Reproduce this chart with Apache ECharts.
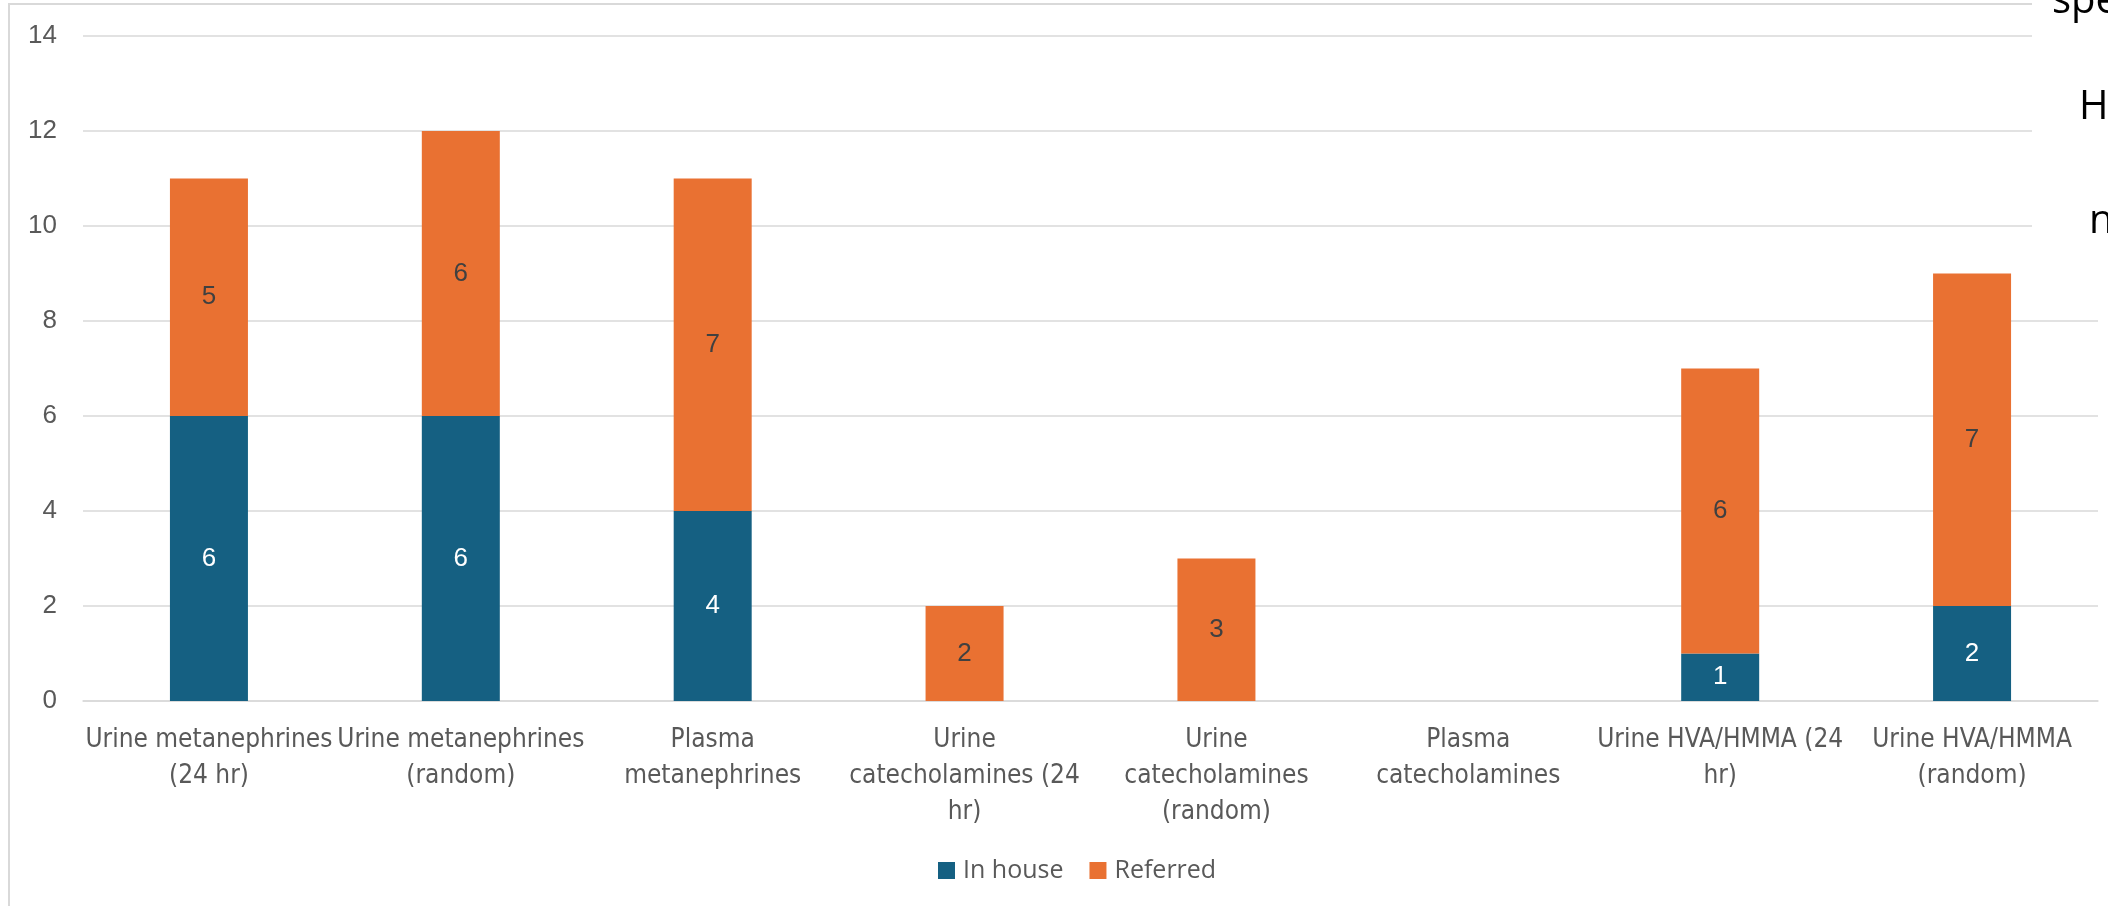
<!DOCTYPE html>
<html lang="en">
<head>
    <meta charset="UTF-8">
    <title>Tests: in house vs referred</title>
    <script src="https://cdn.jsdelivr.net/npm/echarts@6/dist/echarts.min.js"></script>
    <style>
        * {
            margin: 0px;
            padding: 0px;
        }

        #chart {
            width: 2108px;
            height: 906px;
            background: #fff;
        }
    </style>
</head>
<body>
    <div id="chart"></div>

    <script type="text/javascript">
        // data
        var categories = [
            'Urine metanephrines (24 hr)',
            'Urine metanephrines (random)',
            'Plasma metanephrines',
            'Urine catecholamines (24 hr)',
            'Urine catecholamines (random)',
            'Plasma catecholamines',
            'Urine HVA/HMMA (24 hr)',
            'Urine HVA/HMMA (random)'
        ];
        // wrapped the way the picture shows them
        var tickLabels = [
            'Urine metanephrines\n(24 hr)',
            'Urine metanephrines\n(random)',
            'Plasma\nmetanephrines',
            'Urine\ncatecholamines (24\nhr)',
            'Urine\ncatecholamines\n(random)',
            'Plasma\ncatecholamines',
            'Urine HVA/HMMA (24\nhr)',
            'Urine HVA/HMMA\n(random)'
        ];
        var inHouse = [6, 6, 4, 0, 0, 0, 1, 2];
        var referred = [5, 6, 7, 2, 3, 0, 6, 7];
        var yTicks = [0, 2, 4, 6, 8, 10, 12, 14];

        var gray = '#595959';
        var lineGray = '#d9d9d9';
        var numFont = '"Liberation Sans", Arial, sans-serif';

        var myChart = echarts.init(document.getElementById('chart'));

        function hideZero(p) {
            return p.value === 0 ? '' : String(p.value);
        }

        var option = {
            animation: false,
            grid: {
                left: 83,
                right: 10,
                top: 36,
                bottom: 205
            },
            legend: {
                data: ['In house', 'Referred'],
                left: 938,
                top: 858,
                padding: 0,
                icon: 'rect',
                itemWidth: 17,
                itemHeight: 17,
                itemGap: 26,
                textStyle: {
                    color: gray,
                    fontSize: 25,
                    fontFamily: '"Open Sans", sans-serif',
                    padding: [0, 0, 0, 3]
                }
            },
            xAxis: {
                type: 'category',
                data: categories,
                axisTick: { show: false },
                axisLine: {
                    lineStyle: { color: lineGray, width: 1.5 }
                },
                axisLabel: {
                    interval: 0,
                    margin: 21,
                    color: gray,
                    fontSize: 26,
                    lineHeight: 36,
                    fontFamily: '"Liberation Sans Narrow", "DejaVu Sans Condensed", sans-serif',
                    formatter: function (v, i) {
                        return tickLabels[i];
                    }
                }
            },
            yAxis: {
                type: 'value',
                min: yTicks[0],
                max: yTicks[yTicks.length - 1],
                interval: 2,
                axisLine: { show: false },
                axisTick: { show: false },
                axisLabel: {
                    margin: 26,
                    color: gray,
                    fontSize: 26,
                    fontFamily: numFont
                },
                splitLine: {
                    lineStyle: { color: lineGray, width: 1.5 }
                }
            },
            series: [{
                name: 'In house',
                type: 'bar',
                stack: 'total',
                barWidth: 78,
                data: inHouse,
                itemStyle: { color: '#156082' },
                label: {
                    show: true,
                    position: 'inside',
                    color: '#ffffff',
                    fontSize: 26,
                    fontFamily: numFont,
                    formatter: hideZero
                }
            }, {
                name: 'Referred',
                type: 'bar',
                stack: 'total',
                barWidth: 78,
                data: referred,
                itemStyle: { color: '#e97132' },
                label: {
                    show: true,
                    position: 'inside',
                    color: '#404040',
                    fontSize: 26,
                    fontFamily: numFont,
                    formatter: hideZero
                }
            }],
            graphic: [
                // chart frame, only its top and left edges are in view
                {
                    type: 'rect',
                    z: 50,
                    shape: { x: 9, y: 4, width: 2400, height: 1200 },
                    style: { fill: 'none', stroke: lineGray, lineWidth: 2 }
                },
                // text box from the slide overlapping the chart's top right
                {
                    type: 'rect',
                    z: 100,
                    shape: { x: 2032, y: 0, width: 80, height: 290 },
                    style: { fill: '#ffffff' }
                },
                {
                    type: 'text',
                    z: 101,
                    style: { text: 'spe', x: 2052, y: 2, verticalAlign: 'middle', fill: '#000', font: '40px "Open Sans", sans-serif' }
                },
                {
                    type: 'text',
                    z: 101,
                    style: { text: 'H', x: 2079, y: 108, verticalAlign: 'middle', fill: '#000', font: '40px "Open Sans", sans-serif' }
                },
                {
                    type: 'text',
                    z: 101,
                    style: { text: 'n', x: 2089, y: 222, verticalAlign: 'middle', fill: '#000', font: '40px "Open Sans", sans-serif' }
                }
            ]
        };

        myChart.setOption(option);
    </script>
</body>
</html>
